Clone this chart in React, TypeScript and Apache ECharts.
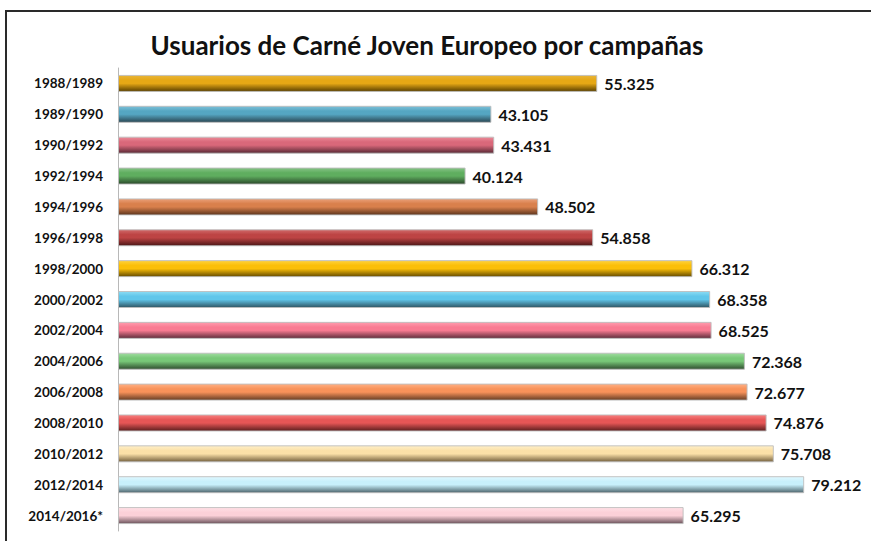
import React, { useEffect, useRef } from "react";
import * as echarts from "echarts";

const titleText = "Usuarios de Carné Joven Europeo por campañas";

const categories = [
  "1988/1989", "1989/1990", "1990/1992", "1992/1994", "1994/1996",
  "1996/1998", "1998/2000", "2000/2002", "2002/2004", "2004/2006",
  "2006/2008", "2008/2010", "2010/2012", "2012/2014", "2014/2016*",
];

const users = [
  55325, 43105, 43431, 40124, 48502,
  54858, 66312, 68358, 68525, 72368,
  72677, 74876, 75708, 79212, 65295,
];

// [top highlight, bright, bottom dark]
const barColors: [string, string, string][] = [
  ["#e8b53a", "#e6a815", "#5a4000"],
  ["#7cc0d8", "#55a6c2", "#2a4652"],
  ["#eb8a98", "#d9687a", "#582834"],
  ["#86c486", "#5fae5f", "#2a482a"],
  ["#eaa07a", "#d9804c", "#5c341c"],
  ["#d06a6a", "#bd4444", "#4c1616"],
  ["#ffd23c", "#fbbf08", "#664c00"],
  ["#8cdcf4", "#60c6ea", "#2e5462"],
  ["#ff9cae", "#f97b92", "#5c2c3a"],
  ["#a0dca0", "#78c878", "#2e4c2e"],
  ["#ffb084", "#f8925a", "#643c24"],
  ["#f88080", "#e65656", "#5c1e1e"],
  ["#fff0c8", "#fbe0a8", "#74603e"],
  ["#e0f8ff", "#c8f0fc", "#4c646c"],
  ["#ffe0e6", "#fbd0d8", "#6c545c"],
];

const fmt = (v: number) =>
  String(v).replace(/\B(?=(\d{3})+(?!\d))/g, ".");

export default function App() {
  const ref = useRef<HTMLDivElement>(null);
  useEffect(() => {
    if (!ref.current) return;
    const chart = echarts.init(ref.current, undefined, { renderer: "svg" });
    const data = users.map((v, i) => {
      const [hi, mid, dark] = barColors[i];
      return {
        value: v,
        itemStyle: {
          color: new echarts.graphic.LinearGradient(0, 0, 0, 1, [
            { offset: 0, color: hi },
            { offset: 0.3, color: mid },
            { offset: 0.5, color: mid },
            { offset: 1, color: dark },
          ]),
        },
      };
    });
    chart.setOption({
      animation: false,
      backgroundColor: "#ffffff",
      title: {
        text: titleText,
        left: 422,
        top: 27,
        textAlign: "center",
        textStyle: {
          fontFamily: "Lato",
          fontWeight: "bold",
          fontSize: 26,
          color: "#111111",
        },
      },
      graphic: [
        {
          type: "rect",
          shape: { x: 6, y: 11, width: 920, height: 600 },
          style: { fill: "none", stroke: "#2a2a2a", lineWidth: 2 },
          silent: true,
        },
      ],
      grid: { left: 118, right: 60, top: 68, bottom: 10, containLabel: false },
      xAxis: {
        type: "value",
        min: 0,
        max: 80000,
        show: false,
        splitLine: { show: false },
      },
      yAxis: {
        type: "category",
        inverse: true,
        data: categories,
        axisLine: { show: true, lineStyle: { color: "#b8b8b8", width: 1 } },
        axisTick: { show: false },
        axisLabel: {
          margin: 15,
          fontFamily: "Lato",
          fontWeight: "bold",
          fontSize: 13.5,
          color: "#111111",
        },
      },
      series: [
        {
          type: "bar",
          data,
          barWidth: 17,
          itemStyle: { borderColor: "rgba(190,190,190,0.9)", borderWidth: 1 },
          label: {
            show: true,
            position: "right",
            distance: 7,
            formatter: (p: any) => fmt(p.value),
            fontFamily: "Lato",
            fontWeight: "bold",
            fontSize: 16,
            color: "#111111",
          },
        },
      ],
    });
    return () => chart.dispose();
  }, []);
  return (
    <div
      ref={ref}
      style={{ position: "fixed", left: 0, top: 0, width: 871, height: 541 }}
    />
  );
}
